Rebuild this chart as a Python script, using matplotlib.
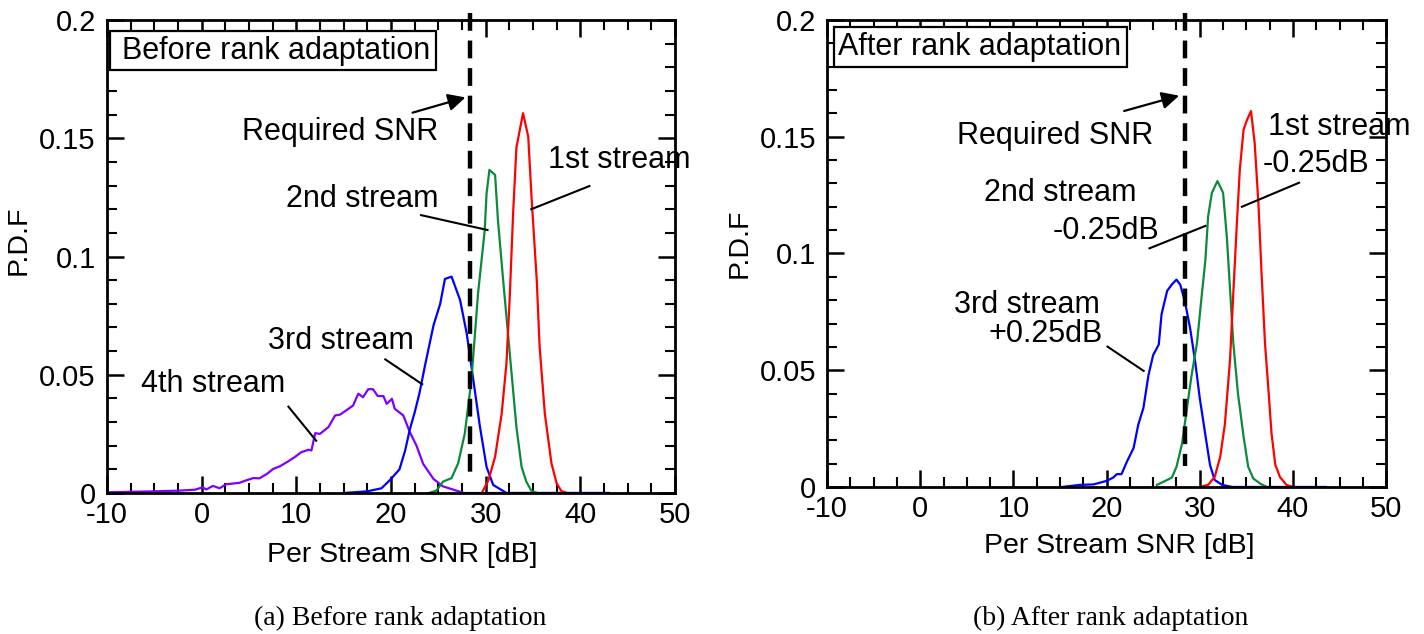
#! /usr/bin/env python3

import matplotlib
matplotlib.use("Agg")
import matplotlib.pyplot as plt
from matplotlib.patches import Rectangle
from matplotlib.ticker import MultipleLocator, FuncFormatter

plt.rcParams['font.family'] = ['Liberation Sans', 'DejaVu Sans']

# --- Данные: до адаптации ранга (a) ---
snr_1st_before = [29.6, 30.3, 31.0, 31.7, 32.2, 32.55, 32.9, 33.25, 33.95, 34.5, 34.85,
                  35.4, 35.7, 36.25, 36.95, 37.5, 38.0, 38.6]
pdf_1st_before = [0, 0.0055, 0.0153, 0.0337, 0.0548, 0.083, 0.118, 0.146, 0.1606, 0.1507,
                  0.125, 0.090, 0.062, 0.0337, 0.0126, 0.0041, 0.0008, 0]

snr_2nd_before = [24.0, 24.8, 25.5, 26.4, 27.1, 27.8, 28.5, 29.2, 29.9, 30.1, 30.4, 31.0,
                  31.3, 31.85, 32.55, 33.25, 33.8, 34.3, 34.85, 35.5]
pdf_2nd_before = [0, 0.001, 0.0048, 0.0063, 0.0126, 0.0252, 0.0478, 0.0844, 0.111, 0.1267,
                  0.1366, 0.1345, 0.1154, 0.090, 0.059, 0.028, 0.011, 0.0048, 0.0008, 0]

snr_3rd_before = [15.0, 17.5, 19.0, 19.9, 20.9, 21.5, 22.0, 22.5, 23.0, 23.6, 24.5, 25.2,
                  25.7, 26.4, 27.3, 28.0, 28.7, 29.4, 30.1, 30.8, 31.5, 32.2, 43.0]
pdf_3rd_before = [0, 0.0007, 0.002, 0.0055, 0.010, 0.018, 0.027, 0.034, 0.042, 0.054, 0.071,
                  0.080, 0.0905, 0.0915, 0.0816, 0.0675, 0.0478, 0.028, 0.011, 0.0034,
                  0.0017, 0, 0]

snr_4th_before = [-10, -5.1, -2.3, -0.7, 0.1, 0.5, 1.2, 1.9, 2.6, 4.0, 4.75, 5.45, 6.1,
                  6.87, 7.57, 8.27, 9.15, 9.85, 10.5, 11.3, 11.6, 12.0, 12.5, 13.4, 14.1,
                  14.6, 15.3, 16.0, 16.55, 17.05, 17.6, 18.1, 18.6, 19.2, 19.55, 20.1,
                  20.4, 21.3, 22.0, 22.7, 23.4, 24.5, 25.5, 26.6, 27.7, 43.0]
pdf_4th_before = [0.0003, 0.0007, 0.001, 0.0014, 0.0024, 0.0015, 0.003, 0.002, 0.0037,
                  0.0043, 0.0054, 0.0063, 0.0062, 0.008, 0.0102, 0.0113, 0.0134, 0.0152,
                  0.0172, 0.0183, 0.018, 0.0253, 0.025, 0.0279, 0.0328, 0.0331, 0.035,
                  0.037, 0.042, 0.0405, 0.0439, 0.0439, 0.041, 0.041, 0.0377, 0.0398,
                  0.0356, 0.0328, 0.0257, 0.020, 0.0123, 0.0059, 0.0028, 0.0014, 0, 0]

# --- Данные: после адаптации ранга (b) ---
snr_1st_after = [30.0, 30.9, 31.6, 32.2, 32.7, 33.25, 33.6, 33.97, 34.3, 34.7, 35.05, 35.5,
                 35.9, 36.3, 36.65, 37.0, 37.4, 37.7, 38.1, 38.6, 39.3, 40.0]
pdf_1st_after = [0, 0.0009, 0.0043, 0.013, 0.027, 0.0545, 0.083, 0.112, 0.136, 0.153, 0.157,
                 0.161, 0.147, 0.121, 0.090, 0.0616, 0.040, 0.023, 0.0096, 0.0043, 0.0009, 0]

snr_2nd_after = [25.4, 26.5, 27.0, 27.5, 28.1, 28.6, 29.1, 29.7, 30.2, 30.6, 30.9, 31.3,
                 31.9, 32.5, 32.9, 33.25, 33.6, 34.1, 34.7, 35.2, 35.75, 36.5, 37.2]
pdf_2nd_after = [0.0009, 0.003, 0.004, 0.0086, 0.0186, 0.033, 0.0473, 0.0616, 0.0816, 0.097,
                 0.116, 0.126, 0.131, 0.126, 0.1074, 0.0845, 0.0616, 0.040, 0.0216, 0.0086,
                 0.0036, 0.0014, 0]

snr_3rd_after = [15.2, 17.15, 18.6, 20.0, 20.7, 21.1, 21.6, 22.2, 22.9, 23.4, 23.95, 24.5,
                 25.0, 25.6, 25.9, 26.5, 27.0, 27.5, 27.9, 28.4, 28.96, 29.5, 30.0, 30.6,
                 31.1, 31.6, 32.4, 33.5, 43.5]
pdf_3rd_after = [0, 0.0009, 0.0011, 0.0026, 0.004, 0.0055, 0.0055, 0.011, 0.0167, 0.0267,
                 0.0338, 0.048, 0.0565, 0.061, 0.074, 0.084, 0.0867, 0.0888, 0.0867, 0.0795,
                 0.0681, 0.0539, 0.038, 0.0223, 0.0094, 0.003, 0.0009, 0, 0]

# требуемый SNR (пунктир)
req_snr_before = 28.35
req_snr_after = 28.4

COL_1ST = '#ff0000'
COL_2ND = '#0c8a3c'
COL_3RD = '#0000ff'
COL_4TH = '#8000ff'
FS = 22         # надписи на графике
FS_TICK = 21    # подписи тиков
FS_LABEL = 20.5 # подписи осей


def setup_axes(ax):
    """Оси, тики внутрь со всех сторон, как в исходнике."""
    ax.set_xlim(-10, 50)
    ax.set_ylim(0, 0.2)
    ax.xaxis.set_major_locator(MultipleLocator(10))
    ax.xaxis.set_minor_locator(MultipleLocator(2.5))
    ax.yaxis.set_major_locator(MultipleLocator(0.05))
    ax.yaxis.set_minor_locator(MultipleLocator(0.01))
    ax.yaxis.set_major_formatter(FuncFormatter(lambda v, p: f"{v:g}"))
    ax.xaxis.set_major_formatter(FuncFormatter(lambda v, p: f"{v:g}"))
    ax.tick_params(which='both', direction='in', top=True, right=True, labelsize=FS_TICK)
    ax.tick_params(which='major', length=12, width=1.8)
    ax.tick_params(which='minor', length=7, width=1.5)
    ax.tick_params(axis='x', pad=6)
    ax.tick_params(axis='y', pad=8)
    for s in ax.spines.values():
        s.set_linewidth(2.0)
    ax.set_xlabel("Per Stream SNR [dB]", fontsize=FS_LABEL)
    ax.set_ylabel("P.D.F", fontsize=FS_LABEL)


def draw_required(ax, snr, arrow_from, arrow_to, text_xy):
    ax.plot([snr, snr], [0.203, 0.009], color='k', lw=3.2,
            linestyle=(0, (4, 2.2)), clip_on=False, zorder=5)
    ax.annotate('', xy=arrow_to, xytext=arrow_from,
                arrowprops=dict(arrowstyle='-|>', color='k', lw=1.6, mutation_scale=26))
    ax.text(text_xy[0], text_xy[1], "Required SNR", fontsize=FS, va='center', ha='left')


def leader(ax, p0, p1):
    ax.plot([p0[0], p1[0]], [p0[1], p1[1]], color='k', lw=1.5, zorder=6)


def title_box(ax, text, x0, x1, y0, y1, tx):
    ax.add_patch(Rectangle((x0, y0), x1 - x0, y1 - y0, transform=ax.transAxes,
                           fc='white', ec='k', lw=1.6, zorder=7))
    ax.text(tx, (y0 + y1) / 2, text, transform=ax.transAxes, fontsize=FS,
            va='center', ha='left', zorder=8)


def main():
    fig = plt.figure(figsize=(14.24, 6.34), dpi=100)
    ax1 = fig.add_axes([0.0751, 0.2224, 0.3989, 0.746])
    ax2 = fig.add_axes([0.5808, 0.2319, 0.3926, 0.7366])

    # (a) до адаптации
    setup_axes(ax1)
    ax1.plot(snr_4th_before, pdf_4th_before, color=COL_4TH, lw=1.6)
    ax1.plot(snr_3rd_before, pdf_3rd_before, color=COL_3RD, lw=1.6)
    ax1.plot(snr_2nd_before, pdf_2nd_before, color=COL_2ND, lw=1.6)
    ax1.plot(snr_1st_before, pdf_1st_before, color=COL_1ST, lw=1.6)
    draw_required(ax1, req_snr_before, (22.0, 0.1605), (28.15, 0.1676), (4.26, 0.1526))
    ax1.text(36.6, 0.1408, "1st stream", fontsize=FS, va='center')
    ax1.text(8.88, 0.1243, "2nd stream", fontsize=FS, va='center')
    ax1.text(7.0, 0.0643, "3rd stream", fontsize=FS, va='center')
    ax1.text(-6.36, 0.0461, "4th stream", fontsize=FS, va='center')
    leader(ax1, (40.96, 0.1298), (34.82, 0.120))
    leader(ax1, (23.18, 0.1175), (30.2, 0.1112))
    leader(ax1, (19.4, 0.0565), (23.3, 0.046))
    leader(ax1, (9.17, 0.0365), (12.1, 0.0221))
    title_box(ax1, "Before rank adaptation", 0.0046, 0.580, 0.894, 0.977, 0.026)
    ax1.yaxis.set_label_coords(-0.132, 0.535)
    ax1.xaxis.set_label_coords(0.52, -0.103)

    # (b) после адаптации
    setup_axes(ax2)
    ax2.plot(snr_3rd_after, pdf_3rd_after, color=COL_3RD, lw=1.6)
    ax2.plot(snr_2nd_after, pdf_2nd_after, color=COL_2ND, lw=1.6)
    ax2.plot(snr_1st_after, pdf_1st_after, color=COL_1ST, lw=1.6)
    draw_required(ax2, req_snr_after, (21.6, 0.1607), (28.07, 0.1679), (3.95, 0.1503))
    ax2.text(37.3, 0.154, "1st stream", fontsize=FS, va='center')
    ax2.text(36.7, 0.1383, "-0.25dB", fontsize=FS, va='center')
    ax2.text(6.84, 0.1259, "2nd stream", fontsize=FS, va='center')
    ax2.text(14.2, 0.1096, "-0.25dB", fontsize=FS, va='center')
    ax2.text(3.67, 0.078, "3rd stream", fontsize=FS, va='center')
    ax2.text(7.37, 0.0655, "+0.25dB", fontsize=FS, va='center')
    leader(ax2, (40.66, 0.1303), (34.52, 0.120))
    leader(ax2, (30.6, 0.1118), (24.6, 0.1022))
    leader(ax2, (20.1, 0.0601), (23.98, 0.0497))
    title_box(ax2, "After rank adaptation", 0.012, 0.537, 0.90, 0.9857, 0.019)
    ax2.yaxis.set_label_coords(-0.134, 0.522)
    ax2.xaxis.set_label_coords(0.522, -0.098)

    # подписи панелей
    fig.text(0.281, 0.024, "(a) Before rank adaptation", fontsize=20,
             family=['Liberation Serif', 'DejaVu Serif'], ha='center', va='center')
    fig.text(0.780, 0.024, "(b) After rank adaptation", fontsize=20,
             family=['Liberation Serif', 'DejaVu Serif'], ha='center', va='center')

    fig.savefig("out.png", dpi=100)


if __name__ == '__main__':
    main()
